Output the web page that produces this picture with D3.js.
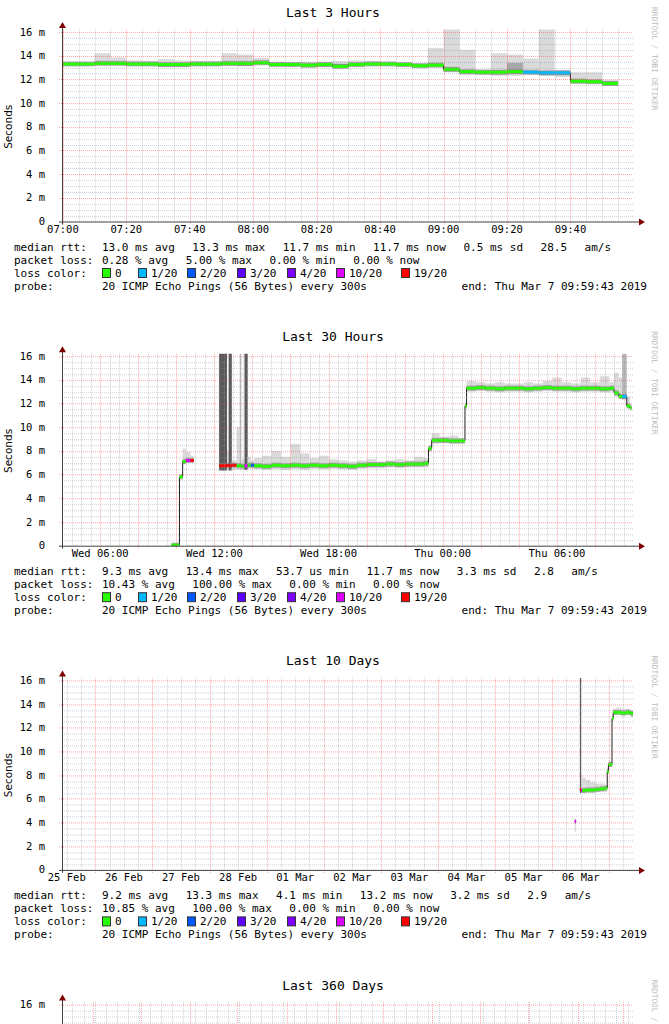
<!DOCTYPE html>
<html><head><meta charset="utf-8">
<script src="https://cdn.jsdelivr.net/npm/d3@7"></script>
<style>
html,body{margin:0;padding:0;background:#fff;overflow:hidden;}
svg text{font-family:"DejaVu Sans Mono",monospace;fill:#000;}
</style></head><body>
<svg id="c" width="669" height="1024"></svg>
<script>
// ---------------- DATA ----------------
const titles = ["Last 3 Hours", "Last 30 Hours", "Last 10 Days", "Last 360 Days"];
const yTickValues = [0, 2, 4, 6, 8, 10, 12, 14, 16];
const yTickLabels = ["0", "2 m", "4 m", "6 m", "8 m", "10 m", "12 m", "14 m", "16 m"];
const lossLabels = ["0", "1/20", "2/20", "3/20", "4/20", "10/20", "19/20"];
const lossColors = ["#26ff00", "#00b8ff", "#0059ff", "#5e00ff", "#7e00ff", "#dd00ff", "#ff0000"];
const endTime = "2019-03-07T09:59:43";

// Panel 1: Last 3 hours (5 min steps, start times)
const p1Time = ["07:00","07:05","07:10","07:15","07:20","07:25","07:30","07:35","07:40","07:45",
  "07:50","07:55","08:00","08:05","08:10","08:15","08:20","08:25","08:30","08:35",
  "08:40","08:45","08:50","08:55","09:00","09:05","09:10","09:15","09:20","09:25",
  "09:30","09:35","09:40","09:45","09:50","09:55"];
const p1Median = [13.30,13.30,13.35,13.35,13.30,13.30,13.25,13.25,13.30,13.30,
  13.35,13.35,13.40,13.25,13.25,13.20,13.25,13.10,13.25,13.30,
  13.30,13.25,13.15,13.20,12.85,12.65,12.60,12.60,12.65,12.60,
  12.55,12.55,11.85,11.80,11.65,null];
const p1Loss = [0,0,0,0,0,0,0,0,0,0, 0,0,0,0,0,0,0,0,0,0, 0,0,0,0,0,0,0,0,0,1, 1,1,0,0,0,0];
const p1Lo = [13.20,13.20,13.20,13.20,13.20,13.15,13.05,13.05,13.15,13.15,
  13.15,13.10,13.25,13.15,13.10,13.00,13.05,12.95,13.10,13.20,
  13.20,13.10,13.00,13.05,12.60,12.40,12.40,12.30,12.30,12.40,
  12.30,12.20,11.65,11.65,11.45,null];
const p1Hi = [13.45,13.45,14.20,13.85,13.60,13.55,13.70,13.60,13.55,13.55,
  14.20,14.10,13.80,13.50,13.45,13.50,13.50,13.55,13.60,13.55,
  13.45,13.40,13.35,14.65,16.30,14.50,12.85,14.20,14.10,13.75,
  16.30,12.80,12.60,12.60,11.95,null];
const p1CoreLo = [13.25,13.25,13.25,13.25,13.25,13.20,13.10,13.10,13.20,13.20,
  13.20,13.15,13.30,13.20,13.15,13.10,13.10,13.00,13.15,13.25,
  13.25,13.15,13.05,13.10,12.70,12.50,12.50,12.45,12.45,12.50,
  12.40,12.40,11.70,11.70,11.55,null];
const p1CoreHi = [13.35,13.35,13.50,13.45,13.40,13.40,13.35,13.35,13.40,13.40,
  13.45,13.45,13.50,13.35,13.35,13.30,13.35,13.30,13.35,13.40,
  13.40,13.35,13.25,13.35,13.00,12.80,12.70,12.75,13.40,12.70,
  12.70,12.65,11.95,11.95,11.80,null];

// Panel 2: Last 30 hours (day-of-March T time)
const p2Time = ["06T09:45","06T10:10","06T10:20","06T10:30","06T10:45","06T10:55",
  "06T12:15","06T12:40","06T12:45","06T12:55","06T13:10","06T13:20","06T13:25","06T13:35","06T13:45","06T13:55",
  "06T14:05","06T14:30","06T15:00","06T15:30","06T16:00","06T16:30","06T17:00","06T17:30","06T18:00","06T18:30",
  "06T19:00","06T19:30","06T20:00","06T20:30","06T21:00","06T21:30","06T22:00","06T22:30","06T23:00","06T23:15",
  "06T23:25","06T23:50","07T00:20","07T00:50","07T01:10","07T01:15","07T01:45","07T02:15","07T02:45","07T03:15",
  "07T03:45","07T04:15","07T04:45","07T05:15","07T05:45","07T06:15","07T06:45","07T07:15","07T07:45","07T08:15",
  "07T08:45","07T09:00","07T09:15","07T09:25","07T09:40","07T09:50","07T09:55"];
const p2Median = [0.05,5.8,7.1,7.2,7.2,null,
  6.75,6.8,6.75,6.8,6.75,6.8,6.7,6.75,6.8,6.8,
  6.75,6.7,6.8,6.75,6.8,6.75,6.8,6.75,6.8,6.75,
  6.7,6.8,6.85,6.85,6.9,6.85,6.9,6.9,6.95,8.2,
  8.9,8.9,8.85,8.85,11.8,13.3,13.35,13.3,13.25,13.3,
  13.3,13.25,13.3,13.35,13.3,13.3,13.25,13.3,13.3,13.25,
  13.3,12.9,12.6,12.6,11.8,11.65,null];
const p2Loss = [0,0,0,5,6,0, 6,6,6,6,0,0,0,5,0,2, 0,0,0,0,0,0,0,0,0,0, 0,0,0,0,0,0,0,0,0,0,
  0,0,0,0,0,0,0,0,0,0, 0,0,0,0,0,0,0,0,0,0, 0,0,0,1,0,0,0];
const p2Lo = [0.0,5.7,6.9,7.0,7.1,null,
  6.35,6.35,6.35,6.4,6.4,6.4,6.45,6.4,6.5,6.5,
  6.45,6.4,6.45,6.4,6.45,6.4,6.5,6.45,6.5,6.45,
  6.4,6.5,6.55,6.55,6.6,6.55,6.6,6.6,6.6,8.0,
  8.6,8.65,8.6,8.6,11.6,13.0,13.05,13.0,12.95,13.0,
  13.0,12.95,13.0,13.05,13.0,13.0,12.95,13.0,13.0,12.95,
  13.0,12.6,12.4,12.35,11.6,11.45,null];
const p2Hi = [0.1,6.0,8.2,7.9,7.6,null,
  16.5,8.0,16.5,7.2,10.0,16.5,7.3,16.5,7.5,7.2,
  7.4,7.6,8.0,7.5,8.6,7.8,7.4,7.6,7.3,7.2,
  7.1,7.2,7.3,7.1,7.2,7.3,7.2,7.5,7.4,8.5,
  9.5,9.2,9.3,9.1,12.0,13.9,13.8,13.7,13.8,13.7,
  13.7,13.8,13.7,13.9,14.2,13.8,13.7,14.2,13.8,14.3,
  13.8,14.6,14.2,16.2,12.6,12.0,null];

// Panel 3: Last 10 days
const p3Time = ["06T09:30","06T10:00","06T11:40","06T12:10","06T12:40","06T14:00","06T16:00","06T18:00","06T20:00",
  "06T22:00","06T23:10","06T23:40","07T00:40","07T01:10","07T01:40","07T03:00","07T05:00","07T07:00","07T09:00","07T09:59"];
const p3Median = [4.1,null,6.8,6.7,6.7,6.75,6.75,6.8,6.85,6.9,8.3,8.9,8.9,12.8,13.3,13.3,13.25,13.3,13.2,null];
const p3Loss = [5,0,6,5,0,0,0,0,0,0,0,0,0,0,0,0,0,0,0,0];
const p3Lo = [3.2,null,6.5,6.5,6.5,6.5,6.5,6.55,6.6,6.6,8.1,8.7,8.7,12.6,13.1,13.1,13.05,13.1,12.9,null];
const p3Hi = [4.2,null,16.5,8.0,7.8,7.6,7.4,7.3,7.3,7.2,8.6,9.2,9.1,13.0,13.6,13.7,13.6,13.6,13.5,null];

// legend texts
const legendStats = [
  [["13.0 ms avg","13.3 ms max","11.7 ms min","11.7 ms now","0.5 ms sd","28.5","am/s"],
   ["0.28 % avg","5.00 % max","0.00 % min","0.00 % now"]],
  [["9.3 ms avg","13.4 ms max","53.7 us min","11.7 ms now","3.3 ms sd","2.8","am/s"],
   ["10.43 % avg","100.00 % max","0.00 % min","0.00 % now"]],
  [["9.2 ms avg","13.3 ms max","4.1 ms min","13.2 ms now","3.2 ms sd","2.9","am/s"],
   ["10.85 % avg","100.00 % max","0.00 % min","0.00 % now"]]
];
const probeText = "20 ICMP Echo Pings (56 Bytes) every 300s";
const endText = "end: Thu Mar  7 09:59:43 2019";

// ---------------- LAYOUT ----------------
const X0 = 62, W = 571;
const PANEL_DY = 324.2;
const Y0 = 221.5, Y16 = 32;
const VIEW_H = 1024;
const svg = d3.select("#c");
const parse = d3.utcParse("%Y-%m-%dT%H:%M:%S");
const END = parse(endTime);
const t1 = s => d3.utcParse("%Y-%m-%dT%H:%M")("2019-03-07T" + s);
const t2 = s => d3.utcParse("%Y-%m-%dT%H:%M")("2019-03-" + s);

const panels = [
  {hours: 3, minor: d3.utcMinute.every(5), major: d3.utcMinute.every(20), label: d3.utcMinute.every(20),
   fmt: d3.utcFormat("%H:%M"), labelShiftH: 0,
   time: p1Time.map(t1), med: p1Median, loss: p1Loss, lo: p1Lo, hi: p1Hi, coreLo: p1CoreLo, coreHi: p1CoreHi},
  {hours: 30, minor: d3.utcMinute.every(30), major: d3.utcHour.every(2), label: d3.utcHour.every(6),
   fmt: d3.utcFormat("%a %H:%M"), labelShiftH: 0,
   time: p2Time.map(t2), med: p2Median, loss: p2Loss, lo: p2Lo, hi: p2Hi},
  {hours: 240, minor: d3.utcHour.every(6), major: d3.utcDay.every(1), label: d3.utcDay.every(1),
   fmt: d3.utcFormat("%d %b"), labelShiftH: 12,
   time: p3Time.map(t2), med: p3Median, loss: p3Loss, lo: p3Lo, hi: p3Hi},
  {hours: 360 * 24, minor: d3.utcMonday.every(1), major: d3.utcMonth.every(1), label: d3.utcMonth.every(1),
   fmt: d3.utcFormat("%b"), labelShiftH: 0, time: [], med: [], loss: [], lo: [], hi: []}
];

const gridMinor = "rgba(150,150,150,0.45)";
const gridMajor = "rgba(255,60,60,0.45)";

panels.forEach((p, i) => {
  const off = i * PANEL_DY;
  const g = svg.append("g").attr("transform", `translate(0,${off})`);
  const visible = yy => yy + off < VIEW_H - 2;
  const start = new Date(END.getTime() - p.hours * 3600e3);
  const x = d3.scaleUtc().domain([start, END]).range([X0, X0 + W]);
  const y = d3.scaleLinear().domain([0, 16]).range([Y0, Y16]);
  const yTopVal = y.invert(29.5);

  const cid = "clip" + i;
  g.append("clipPath").attr("id", cid).append("rect")
    .attr("x", X0).attr("y", y(yTopVal)).attr("width", W).attr("height", Y0 - y(yTopVal));

  // title
  g.append("text").attr("x", 333).attr("y", 17).attr("text-anchor", "middle")
    .style("font-size", "13px").text(titles[i]);
  // watermark
  g.append("text").attr("transform", "translate(652,7) rotate(90)")
    .style("font-size", "7.8px").style("fill", "#bbbbbb")
    .text(i < 3 ? "RRDTOOL / TOBI OETIKER" : "RRDTOOL /");
  // y label
  if (visible(Y0)) {
    g.append("text").attr("transform", `translate(12,${(Y0 + Y16) / 2}) rotate(-90)`)
      .attr("text-anchor", "middle").style("font-family", "'DejaVu Sans',sans-serif")
      .style("font-size", "10.5px").text("Seconds");
  }

  const plot = g.append("g").attr("clip-path", `url(#${cid})`);

  // smoke
  const n = p.time.length;
  for (let k = 0; k < n - 1; k++) {
    if (p.med[k] == null) continue;
    const xa = x(p.time[k]), xb = x(p.time[k + 1]);
    const dark = p.loss[k] >= 5 && p.hi[k] > 10;
    plot.append("rect").attr("x", xa).attr("width", Math.max(0.8, xb - xa))
      .attr("y", y(p.hi[k])).attr("height", y(p.lo[k]) - y(p.hi[k]))
      .attr("fill", dark ? "#5a5a5a" : (p.hi[k] > 15 && i > 0 ? "#b8b8b8" : "#dadada"));
    if (p.coreLo) {
      plot.append("rect").attr("x", xa).attr("width", xb - xa)
        .attr("y", y(p.coreHi[k])).attr("height", y(p.coreLo[k]) - y(p.coreHi[k]))
        .attr("fill", "#a8a8a8");
    }
  }

  // grid
  const grid = g.append("g");
  const yMinor = y.ticks(32), yMajor = y.ticks(8);
  grid.selectAll(".hm").data(yMinor.filter(v => v % 2 !== 0)).join("line")
    .attr("x1", X0).attr("x2", X0 + W).attr("y1", d => Math.round(y(d)) + 0.5).attr("y2", d => Math.round(y(d)) + 0.5)
    .attr("stroke", gridMinor).attr("stroke-dasharray", "1,1");
  const xMinor = x.ticks(p.minor), xMajor = x.ticks(p.major);
  const majorSet = new Set(xMajor.map(d => +d));
  grid.selectAll(".vm").data(xMinor.filter(d => !majorSet.has(+d))).join("line")
    .attr("x1", d => Math.round(x(d)) + 0.5).attr("x2", d => Math.round(x(d)) + 0.5)
    .attr("y1", 29.5).attr("y2", Y0)
    .attr("stroke", gridMinor).attr("stroke-dasharray", "1,1");
  grid.selectAll(".hM").data(yMajor.filter(v => v > 0)).join("line")
    .attr("x1", X0 - 3).attr("x2", X0 + W).attr("y1", d => Math.round(y(d)) + 0.5).attr("y2", d => Math.round(y(d)) + 0.5)
    .attr("stroke", gridMajor).attr("stroke-dasharray", "1,1");
  grid.selectAll(".vM").data(xMajor).join("line")
    .attr("x1", d => Math.round(x(d)) + 0.5).attr("x2", d => Math.round(x(d)) + 0.5)
    .attr("y1", 29.5).attr("y2", Y0 + 3)
    .attr("stroke", gridMajor).attr("stroke-dasharray", "1,1");

  // median
  const segs = [];
  for (let k = 0; k < n - 1; k++) {
    if (p.med[k] == null) continue;
    segs.push({xa: x(p.time[k]), xb: x(p.time[k + 1]), v: p.med[k], c: lossColors[p.loss[k]]});
  }
  plot.selectAll(".sh").data(segs).join("rect")
    .attr("x", d => d.xa).attr("width", d => d.xb - d.xa)
    .attr("y", d => y(d.v) - 2.5).attr("height", 5).attr("fill", "#7a7a7a").attr("opacity", 0.6);
  const line = d3.line().x(d => x(d.t)).y(d => y(d.v)).curve(d3.curveStepAfter);
  const runs = [];
  let cur = [];
  for (let k = 0; k < n; k++) {
    if (p.med[k] == null) {
      if (cur.length) { cur.push({t: p.time[k], v: cur[cur.length - 1].v}); runs.push(cur); cur = []; }
      continue;
    }
    cur.push({t: p.time[k], v: p.med[k]});
  }
  if (cur.length) runs.push(cur);
  plot.selectAll(".ml").data(runs).join("path")
    .attr("d", d => line(d)).attr("fill", "none").attr("stroke", "#202020").attr("stroke-width", 1);
  plot.selectAll(".mc").data(segs).join("rect")
    .attr("x", d => d.xa).attr("width", d => Math.max(1.5, d.xb - d.xa))
    .attr("y", d => y(d.v) - 1.5).attr("height", 3).attr("fill", d => d.c);

  // axes
  g.append("line").attr("x1", X0 + 0.5).attr("x2", X0 + 0.5).attr("y1", Y0 + 3).attr("y2", 27)
    .attr("stroke", "#404040");
  g.append("line").attr("x1", X0 - 3).attr("x2", X0 + W + 6).attr("y1", Y0 + 0.5).attr("y2", Y0 + 0.5)
    .attr("stroke", "#404040");
  g.append("path").attr("d", `M${X0 - 3},28 L${X0 + 0.5},22 L${X0 + 4},28 Z`).attr("fill", "#800000");
  g.append("path").attr("d", `M${X0 + W + 6},${Y0 - 3} L${X0 + W + 12},${Y0 + 0.5} L${X0 + W + 6},${Y0 + 4} Z`).attr("fill", "#800000");

  // y tick labels
  g.selectAll(".yl").data(yTickValues.filter(v => visible(y(v) + 4))).join("text")
    .attr("x", 45).attr("y", d => y(d) + 3.5).attr("text-anchor", "end")
    .style("font-size", "10.5px").text(d => yTickLabels[yTickValues.indexOf(d)]);

  // x tick labels
  if (visible(236)) {
    const base = p.labelShiftH ? p.label.range(p.label.floor(new Date(start.getTime() - 86400e3)), END) : x.ticks(p.label);
    const xl = base.map(d => new Date(d.getTime() + p.labelShiftH * 3600e3))
      .filter(d => d >= start && x(d) < X0 + W - 15);
    g.selectAll(".xl").data(xl).join("text")
      .attr("x", d => x(d)).attr("y", 233).attr("text-anchor", "middle")
      .style("font-size", "10.5px").text(d => p.fmt(d));
  }

  // legend
  if (i < 3) {
    const L = g.append("g").style("font-size", "11px");
    const stats = legendStats[i];
    const GAP = 17.5;
    const seq = (items, yy) => {
      let xx = 102;
      items.forEach(s => {
        const t = L.append("text").attr("x", xx).attr("y", yy).text(s);
        xx += t.node().getComputedTextLength() + GAP;
      });
    };
    L.append("text").attr("x", 14).attr("y", 250.5).text("median rtt:");
    seq(stats[0], 250.5);
    L.append("text").attr("x", 14).attr("y", 263.5).text("packet loss:");
    seq(stats[1], 263.5);
    L.append("text").attr("x", 14).attr("y", 276.5).text("loss color:");
    const bx = [102, 138, 187, 237, 287, 336, 401];
    lossLabels.forEach((s, j) => {
      L.append("rect").attr("x", bx[j] + 0.5).attr("y", 268.5).attr("width", 8).attr("height", 9)
        .attr("fill", lossColors[j]).attr("stroke", "#333").attr("stroke-width", 1);
      L.append("text").attr("x", bx[j] + 13).attr("y", 276.5).text(s);
    });
    L.append("text").attr("x", 14).attr("y", 289.5).text("probe:");
    L.append("text").attr("x", 102).attr("y", 289.5).text(probeText);
    L.append("text").attr("x", 647).attr("y", 289.5).attr("text-anchor", "end").text(endText);
  }
});
</script>
</body></html>
